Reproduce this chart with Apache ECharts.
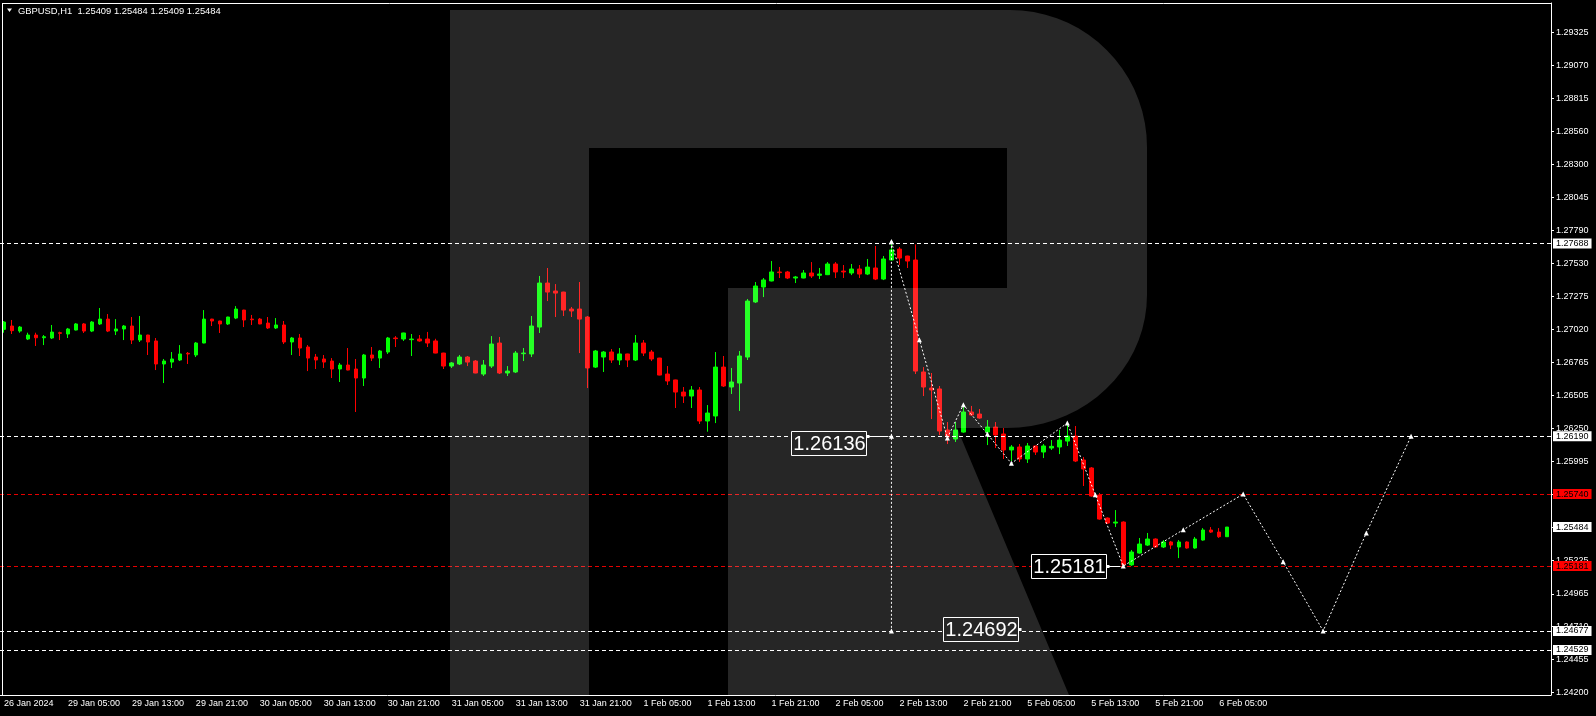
<!DOCTYPE html>
<html><head><meta charset="utf-8">
<script src="https://cdn.jsdelivr.net/npm/echarts@6/dist/echarts.min.js"></script>
<style>html,body{margin:0;padding:0;background:#000;}#c{width:1596px;height:716px;}</style>
</head><body><div id="c"></div><script>
// ---- data (GBPUSD H1) ----
const open  = [1.27020,1.27046,1.27007,1.26945,1.26976,1.26955,1.26953,1.26994,1.26984,1.27015,1.27062,1.27007,1.27062,1.27100,1.27007,1.27023,1.27046,1.26937,1.26976,1.26930,1.26751,1.26766,1.26782,1.26834,1.26821,1.26914,1.27100,1.27085,1.27062,1.27108,1.27170,1.27100,1.27100,1.27069,1.27031,1.27054,1.26922,1.26953,1.26883,1.26805,1.26790,1.26774,1.26712,1.26743,1.26712,1.26642,1.26821,1.26797,1.26844,1.26953,1.26945,1.26940,1.26945,1.26945,1.26930,1.26836,1.26735,1.26751,1.26805,1.26774,1.26673,1.26735,1.26914,1.26681,1.26689,1.26831,1.26829,1.27038,1.27380,1.27318,1.27310,1.27178,1.27178,1.27116,1.26727,1.26805,1.26844,1.26782,1.26829,1.26782,1.26914,1.26844,1.26797,1.26673,1.26627,1.26533,1.26502,1.26549,1.26308,1.26347,1.26727,1.26572,1.26603,1.26805,1.27233,1.27349,1.27396,1.27466,1.27466,1.27419,1.27419,1.27458,1.27440,1.27445,1.27528,1.27473,1.27458,1.27489,1.27450,1.27497,1.27411,1.27559,1.27644,1.27590,1.27559,1.26689,1.26564,1.26557,1.26238,1.26168,1.26222,1.26378,1.26362,1.26222,1.26261,1.26207,1.26083,1.26106,1.26013,1.26114,1.26067,1.26098,1.26106,1.26152,1.26191,1.26005,1.25943,1.25733,1.25554,1.25515,1.25523,1.25190,1.25282,1.25344,1.25391,1.25329,1.25368,1.25329,1.25368,1.25321,1.25383,1.25461,1.25445,1.25409];
const close = [1.27077,1.27010,1.27038,1.26976,1.26955,1.26963,1.26999,1.26989,1.27023,1.27062,1.27007,1.27077,1.27100,1.27007,1.27023,1.27046,1.26937,1.26976,1.26922,1.26751,1.26774,1.26790,1.26829,1.26829,1.26914,1.27100,1.27085,1.27062,1.27116,1.27178,1.27093,1.27095,1.27062,1.27031,1.27054,1.26922,1.26953,1.26875,1.26797,1.26782,1.26766,1.26712,1.26743,1.26704,1.26642,1.26821,1.26797,1.26852,1.26953,1.26948,1.26992,1.26945,1.26930,1.26914,1.26836,1.26735,1.26759,1.26805,1.26766,1.26681,1.26743,1.26906,1.26681,1.26696,1.26836,1.26836,1.27046,1.27380,1.27310,1.27302,1.27170,1.27163,1.27100,1.26720,1.26852,1.26844,1.26782,1.26829,1.26782,1.26914,1.26836,1.26790,1.26665,1.26619,1.26533,1.26502,1.26549,1.26308,1.26370,1.26727,1.26580,1.26611,1.26813,1.27240,1.27357,1.27404,1.27466,1.27461,1.27419,1.27427,1.27458,1.27435,1.27450,1.27528,1.27466,1.27466,1.27489,1.27450,1.27504,1.27411,1.27567,1.27637,1.27574,1.27551,1.26696,1.26572,1.26549,1.26230,1.26184,1.26238,1.26378,1.26355,1.26331,1.26261,1.26199,1.26083,1.26106,1.26013,1.26114,1.26067,1.26114,1.26111,1.26160,1.26191,1.25997,1.25935,1.25725,1.25546,1.25515,1.25523,1.25190,1.25290,1.25352,1.25391,1.25329,1.25368,1.25344,1.25368,1.25321,1.25391,1.25461,1.25445,1.25409,1.25484];
const low   = [1.26994,1.26984,1.26994,1.26937,1.26891,1.26898,1.26945,1.26937,1.26953,1.27012,1.26992,1.26999,1.27054,1.26999,1.26976,1.26937,1.26906,1.26922,1.26821,1.26704,1.26603,1.26720,1.26774,1.26751,1.26805,1.26912,1.27046,1.26992,1.27054,1.27100,1.27038,1.27054,1.27060,1.27023,1.27023,1.26906,1.26821,1.26813,1.26696,1.26712,1.26720,1.26642,1.26611,1.26702,1.26378,1.26580,1.26774,1.26720,1.26829,1.26883,1.26930,1.26813,1.26924,1.26883,1.26834,1.26712,1.26720,1.26743,1.26735,1.26679,1.26658,1.26720,1.26673,1.26658,1.26681,1.26774,1.26805,1.26992,1.27240,1.27116,1.27124,1.27116,1.26836,1.26564,1.26720,1.26689,1.26759,1.26743,1.26727,1.26774,1.26813,1.26774,1.26663,1.26588,1.26409,1.26448,1.26409,1.26285,1.26225,1.26292,1.26572,1.26518,1.26386,1.26782,1.27225,1.27271,1.27393,1.27419,1.27411,1.27380,1.27417,1.27419,1.27411,1.27442,1.27419,1.27419,1.27442,1.27419,1.27442,1.27403,1.27403,1.27557,1.27520,1.27497,1.26673,1.26502,1.26323,1.26199,1.26129,1.26145,1.26217,1.26347,1.26326,1.26121,1.26098,1.26013,1.25997,1.25989,1.25982,1.26044,1.26020,1.26083,1.26051,1.26114,1.25989,1.25803,1.25720,1.25541,1.25508,1.25484,1.25181,1.25182,1.25277,1.25337,1.25324,1.25321,1.25313,1.25243,1.25316,1.25316,1.25378,1.25438,1.25400,1.25409];
const high  = [1.27085,1.27093,1.27046,1.26994,1.26994,1.26976,1.27054,1.27002,1.27031,1.27069,1.27069,1.27085,1.27186,1.27139,1.27100,1.27054,1.27116,1.27124,1.26978,1.26953,1.26790,1.26844,1.26898,1.26844,1.26922,1.27170,1.27102,1.27087,1.27118,1.27201,1.27172,1.27132,1.27108,1.27116,1.27108,1.27085,1.26961,1.26984,1.26898,1.26829,1.26821,1.26797,1.26759,1.26875,1.26790,1.26829,1.26883,1.26860,1.26961,1.26968,1.26994,1.26984,1.26976,1.27000,1.26947,1.26838,1.26766,1.26821,1.26813,1.26782,1.26782,1.26968,1.26961,1.26735,1.26852,1.26875,1.27124,1.27435,1.27497,1.27372,1.27312,1.27194,1.27388,1.27124,1.26860,1.26852,1.26867,1.26875,1.26831,1.26976,1.26937,1.26860,1.26799,1.26735,1.26629,1.26572,1.26580,1.26572,1.26432,1.26844,1.26813,1.26720,1.26852,1.27256,1.27388,1.27419,1.27551,1.27505,1.27474,1.27435,1.27481,1.27543,1.27497,1.27543,1.27543,1.27520,1.27528,1.27520,1.27567,1.27668,1.27590,1.27688,1.27660,1.27592,1.27680,1.26727,1.26681,1.26580,1.26300,1.26300,1.26440,1.26425,1.26401,1.26316,1.26300,1.26254,1.26121,1.26129,1.26137,1.26116,1.26129,1.26160,1.26238,1.26285,1.26269,1.26028,1.25950,1.25748,1.25559,1.25616,1.25528,1.25306,1.25399,1.25438,1.25396,1.25383,1.25376,1.25383,1.25373,1.25407,1.25476,1.25484,1.25476,1.25484];

const xTickLabels = ['26 Jan 2024','29 Jan 05:00','29 Jan 13:00','29 Jan 21:00','30 Jan 05:00','30 Jan 13:00','30 Jan 21:00','31 Jan 05:00','31 Jan 13:00','31 Jan 21:00','1 Feb 05:00','1 Feb 13:00','1 Feb 21:00','2 Feb 05:00','2 Feb 13:00','2 Feb 21:00','5 Feb 05:00','5 Feb 13:00','5 Feb 21:00','6 Feb 05:00'];
const yTicks = [1.29325,1.29070,1.28815,1.28560,1.28300,1.28045,1.27790,1.27530,1.27275,1.27020,1.26765,1.26505,1.26250,1.25995,1.25740,1.25480,1.25225,1.24965,1.24710,1.24455,1.24200];

const levelsWhite = [1.27688,1.26190,1.24677,1.24529];
const levelsRed = [1.25740,1.25181];
const bidPrice = 1.25484;

const zigzagX = [111,114.5,118,120,123,126,133,136.5,140,147.5,155,160,165,170.4,176];
const zigzagY = [1.27700,1.26940,1.26176,1.26435,1.26207,1.25979,1.26292,1.25735,1.25181,1.25463,1.25740,1.25214,1.24677,1.25438,1.26190];

const vLineX = 111;
const vLineY = [1.27700,1.26190,1.24677];

const noteText = ['1.26136','1.25181','1.24692'];
const noteX = [111,140,111];
const noteY = [1.26136,1.25181,1.24692];

const titleText = 'GBPUSD,H1  1.25409 1.25484 1.25409 1.25484';

// ---- chart ----
const N = 194;
const categories = Array.from({length:N},(_,i)=>i);
const candleData = open.map((o,i)=>[o, close[i], low[i], high[i]]);
const tickInt = (i)=> i%8===0 && (i/8) < xTickLabels.length;
const FONT = 'Liberation Sans';

const chart = echarts.init(document.getElementById('c'));

const markLineData = [
  ...levelsWhite.map(v=>({yAxis:v, lineStyle:{color:'#ffffff', type:[4,3], width:1}, label:{backgroundColor:'#ffffff', color:'#000000'}})),
  ...levelsRed.map(v=>({yAxis:v, lineStyle:{color:'#e60000', type:[4,3], width:1}, label:{backgroundColor:'#ff0000', color:'#000000'}})),
  {yAxis:bidPrice, lineStyle:{color:'rgba(0,0,0,0)', width:1}, label:{backgroundColor:'#ffffff', color:'#000000'}}
];

chart.setOption({
  animation:false,
  backgroundColor:'#000000',
  grid:{left:-1, right:45, top:3, bottom:21},
  xAxis:[{
    type:'category', data:categories, boundaryGap:true,
    axisLine:{onZero:false, lineStyle:{color:'#ffffff', width:1}},
    axisTick:{alignWithLabel:true, interval:tickInt, length:4, lineStyle:{color:'#ffffff'}},
    axisLabel:{interval:tickInt, formatter:(v,i)=>xTickLabels[i/8], color:'#ffffff', fontSize:9, fontFamily:FONT, align:'left', margin:4},
    splitLine:{show:false}
  },{
    type:'value', min:-0.5, max:N-0.5, show:false, axisLine:{onZero:false}
  }],
  yAxis:{
    type:'value', position:'right', min:1.24179, max:1.29556, scale:true,
    axisLine:{show:true, onZero:false, lineStyle:{color:'#ffffff'}},
    axisTick:{show:true, customValues:yTicks, length:3, lineStyle:{color:'#ffffff'}},
    axisLabel:{customValues:yTicks, formatter:v=>v.toFixed(5), color:'#ffffff', fontSize:9, fontFamily:FONT, margin:5},
    splitLine:{show:false}
  },
  series:[{
    type:'candlestick', data:candleData, barWidth:4, silent:true,
    itemStyle:{color:'#00ff00', color0:'#ff0000', borderColor:'#00ff00', borderColor0:'#ff0000', borderWidth:1},
    markLine:{
      silent:true, symbol:['none','none'], precision:5, animation:false,
      label:{show:true, position:'end', distance:2, formatter:p=>Number(p.value).toFixed(5), fontSize:9, fontFamily:FONT, padding:[1,3,0,3]},
      data:markLineData
    }
  },{
    type:'line', xAxisIndex:1, yAxisIndex:0, silent:true,
    data:zigzagX.map((x,i)=>[x, zigzagY[i]]),
    lineStyle:{color:'#ffffff', width:1, type:[2,2]},
    symbol:'triangle', symbolSize:5, itemStyle:{color:'#ffffff'}, z:5
  },{
    type:'line', xAxisIndex:1, yAxisIndex:0, silent:true,
    data:vLineY.map(y=>[vLineX, y]),
    lineStyle:{color:'#ffffff', width:1, type:[2,2]},
    symbol:'triangle', symbolSize:5, itemStyle:{color:'#ffffff'}, z:5
  }]
});

// ---- decorations & annotations ----
function px(x,y){ return chart.convertToPixel({xAxisIndex:1, yAxisIndex:0},[x,y]); }
const g = [];
// frame
g.push({type:'line', silent:true, z:10, shape:{x1:2.5,y1:3,x2:2.5,y2:695}, style:{stroke:'#ffffff', lineWidth:1}});
g.push({type:'line', silent:true, z:10, shape:{x1:2,y1:3.5,x2:1551,y2:3.5}, style:{stroke:'#ffffff', lineWidth:1}});
// title
g.push({type:'polygon', silent:true, z:10, shape:{points:[[7,8.5],[12,8.5],[9.5,12]]}, style:{fill:'#ffffff'}});
g.push({type:'text', silent:true, z:10, x:18, y:11, style:{text:titleText, fill:'#ffffff', font:'9.4px "Liberation Sans"', align:'left', verticalAlign:'middle', textAlign:'left', textVerticalAlign:'middle'}});

// annotation boxes
const noteOffsets = [-100,-92,52];
const BW = 75, BH = 24;
noteText.forEach((t,i)=>{
  const p = px(noteX[i], noteY[i]);
  const left = Math.round(p[0] + noteOffsets[i]) + 0.5;
  const top = Math.round(p[1] - BH/2) + 0.5;
  g.push({type:'rect', silent:true, z:20, shape:{x:left, y:top, width:BW, height:BH}, style:{fill:'#000000', stroke:'#ffffff', lineWidth:1}});
  g.push({type:'text', silent:true, z:21, x:left+BW/2+0.5, y:top+BH/2+1, style:{text:t, fill:'#ffffff', font:'20px "Liberation Sans"', align:'center', verticalAlign:'middle', textAlign:'center', textVerticalAlign:'middle'}});
  if (noteOffsets[i] < 0) {
    const cy = (i===0 ? Math.round(px(vLineX, vLineY[1])[1]) : Math.round(p[1])) + 0.5;
    g.push({type:'line', silent:true, z:21, shape:{x1:left+BW, y1:cy, x2:p[0]-3, y2:cy}, style:{stroke:'#ffffff', lineWidth:1}});
    g.push({type:'rect', silent:true, z:21, shape:{x:left+BW, y:cy-1.5, width:3, height:3}, style:{fill:'#ffffff'}});
  } else {
    g.push({type:'rect', silent:true, z:21, shape:{x:left+BW, y:Math.round(p[1])-1, width:3, height:3}, style:{fill:'#ffffff'}});
  }
});

// big "R" watermark (semi-transparent overlay)
const R = [];
R.push([450,10]);
for (let a=-90; a<=0; a+=5){ const r=a*Math.PI/180; R.push([1010+137*Math.cos(r), 147+137*Math.sin(r)]); }
R.push([1147,295]);
for (let a=0; a<=90; a+=5){ const r=a*Math.PI/180; R.push([1007+140*Math.cos(r), 295+133*Math.sin(r)]); }
R.push([957,428],[1069,695],[728,695],[728,288],[1007,288],[1007,148],[589,148],[589,695],[450,695]);
g.push({type:'polygon', silent:true, z:100, shape:{points:R}, style:{fill:'rgba(255,255,255,0.149)'}});

chart.setOption({graphic:g});
</script></body></html>
